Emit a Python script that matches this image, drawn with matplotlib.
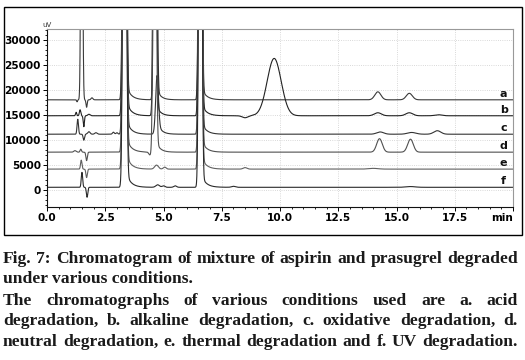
import matplotlib
matplotlib.use("Agg")
import matplotlib.pyplot as plt
import numpy as np
from matplotlib.patches import Rectangle
from matplotlib.ticker import MultipleLocator

# peak tables: (retention min, height uV, width min, tail uV, tail tau min)
trace_names = ["a", "b", "c", "d", "e", "f"]
baselines = [18000, 14800, 11100, 7500, 4100, 450]

peaks_a = [(1.29, -400, 0.02, 0, 0), (1.49, 80000, 0.035, 0, 0), (1.70, -1500, 0.025, 0, 0),
           (1.93, 400, 0.04, 0, 0), (3.33, 200000, 0.055, 4000, 0.2),
           (4.65, 150000, 0.05, 3000, 0.17), (6.58, 200000, 0.05, 3000, 0.2),
           (14.2, 1600, 0.13, 0, 0), (15.55, 1300, 0.13, 0, 0)]
peaks_b = [(1.25, 700, 0.025, 0, 0), (1.42, 1200, 0.03, 0, 0), (1.58, -2200, 0.025, 0, 0),
           (1.80, 300, 0.05, 0, 0), (3.33, 200000, 0.055, 4000, 0.2),
           (4.63, 150000, 0.05, 3000, 0.17), (6.58, 200000, 0.05, 3000, 0.2),
           (8.5, -400, 0.12, 0, 0), (9.75, 11500, 0.30, 0, 0),
           (14.2, 600, 0.15, 0, 0), (15.55, 600, 0.15, 0, 0), (16.8, 200, 0.15, 0, 0)]
peaks_c = [(1.32, 3000, 0.03, 0, 0), (1.58, -1200, 0.03, 0, 0), (1.80, 500, 0.05, 0, 0),
           (2.10, 300, 0.05, 0, 0), (2.85, 400, 0.04, 0, 0), (3.00, 300, 0.04, 0, 0),
           (3.33, 200000, 0.055, 4000, 0.2), (4.72, 10500, 0.06, 2500, 0.17),
           (6.58, 200000, 0.05, 3000, 0.2),
           (14.3, 450, 0.15, 0, 0), (15.65, 350, 0.18, 0, 0), (16.75, 700, 0.15, 0, 0)]
peaks_d = [(1.20, 300, 0.05, 0, 0), (1.45, 600, 0.03, 0, 0), (1.70, -1700, 0.03, 0, 0),
           (3.33, 200000, 0.055, 4000, 0.2), (4.42, -600, 0.05, 0, 0),
           (4.62, 150000, 0.05, 3000, 0.17), (6.58, 200000, 0.05, 3000, 0.2),
           (14.27, 2700, 0.12, 0, 0), (15.6, 2600, 0.12, 0, 0)]
peaks_e = [(1.47, 1800, 0.03, 0, 0), (1.70, -1700, 0.03, 0, 0),
           (3.33, 200000, 0.055, 4000, 0.2), (4.70, 800, 0.08, 0, 0), (5.05, 400, 0.06, 0, 0),
           (6.58, 200000, 0.05, 3000, 0.2), (8.5, 300, 0.08, 0, 0), (14.0, 150, 0.2, 0, 0)]
peaks_f = [(1.50, 3000, 0.03, 0, 0), (1.72, -2000, 0.03, 0, 0),
           (3.33, 200000, 0.055, 4000, 0.2), (4.75, 500, 0.08, 0, 0), (5.0, 300, 0.06, 0, 0),
           (5.5, 300, 0.06, 0, 0), (6.58, 200000, 0.05, 3000, 0.2), (8.0, 200, 0.08, 0, 0),
           (15.6, 150, 0.2, 0, 0)]
peak_tables = [peaks_a, peaks_b, peaks_c, peaks_d, peaks_e, peaks_f]
trace_colors = ["#3a3a3a", "#222222", "#333333", "#505050", "#606060", "#2a2a2a"]

x_ticks = [0.0, 2.5, 5.0, 7.5, 10.0, 12.5, 15.0, 17.5, 20.0]
x_labels = ["0.0", "2.5", "5.0", "7.5", "10.0", "12.5", "15.0", "17.5", "min"]
y_ticks = [0, 5000, 10000, 15000, 20000, 25000, 30000]

caption = [
    ("Fig. 7: Chromatogram of mixture of aspirin and prasugrel degraded", True),
    ("under various conditions.", False),
    ("The chromatographs of various conditions used are a. acid", True),
    ("degradation, b. alkaline degradation, c. oxidative degradation, d.", True),
    ("neutral degradation, e. thermal degradation and f. UV degradation.", True),
]


def trace(t, base, peaks):
    y = np.full_like(t, float(base))
    for rt, h, w, tail, tau in peaks:
        y += h * np.exp(-0.5 * ((t - rt) / w) ** 2)
        if tail:
            step = 0.5 * (1 + np.tanh((t - rt) / w))
            y += tail * step * np.exp(-np.clip(t - rt, 0, None) / tau)
    return y


W, H = 525, 360
fig = plt.figure(figsize=(W / 100, H / 100), dpi=100)
fig.patch.set_facecolor("white")

ax = fig.add_axes([47 / W, 1 - 207 / H, (513 - 47) / W, (207 - 29) / H])
t = np.linspace(0, 20, 6001)
for name, base, peaks, col in zip(trace_names, baselines, peak_tables, trace_colors):
    ax.plot(t, trace(t, base, peaks), color=col, lw=0.8)
    ax.text(19.6, base + 250, name, ha="center", va="bottom", fontsize=8,
            fontweight="bold", color="#111111")

ax.set_xlim(0, 20)
ax.set_ylim(-3500, 32200)
ax.set_xticks(x_ticks)
ax.set_xticklabels(x_labels)
ax.get_xticklabels()[-1].set_ha("right")
ax.set_yticks(y_ticks)
ax.xaxis.set_minor_locator(MultipleLocator(0.5))
ax.yaxis.set_minor_locator(MultipleLocator(1000))
ax.tick_params(which="major", direction="out", length=3, width=0.7, labelsize=7.6, pad=1.5)
ax.tick_params(which="minor", direction="out", length=1.6, width=0.6)
for lab in ax.get_xticklabels() + ax.get_yticklabels():
    lab.set_fontweight("bold")
ax.grid(True, which="major", color="#cccccc", ls=":", lw=0.6)
for side in ["left", "bottom"]:
    ax.spines[side].set_color("#111111")
    ax.spines[side].set_linewidth(0.8)
for side in ["top", "right"]:
    ax.spines[side].set_color("#999999")
    ax.spines[side].set_linewidth(0.8)
ax.text(0, 1.005, "uV", transform=ax.transAxes, ha="center", va="bottom", fontsize=5, color="#333333")

fig.add_artist(Rectangle((4 / W, 1 - 235 / H), 518 / W, 228 / H, transform=fig.transFigure,
                         fill=False, ec="black", lw=1))

# caption, justified like the journal text
renderer = fig.canvas.get_renderer()
font = dict(family="Liberation Serif", fontweight="bold", color="#1a1a1a")
left_px, right_px = 3, 518
fs = 12.0
probe = fig.text(0, 0, caption[0][0], fontsize=fs, **font)
nat = probe.get_window_extent(renderer).width
probe.remove()
fs = fs * 505 / nat
baselines_px = [263, 283, 305, 325, 346]
for (line, justify), ypx in zip(caption, baselines_px):
    yf = 1 - ypx / H
    if not justify:
        fig.text(left_px / W, yf, line, fontsize=fs, va="baseline", ha="left", **font)
        continue
    words = line.split(" ")
    arts = [fig.text(0, yf, w, fontsize=fs, va="baseline", ha="left", **font) for w in words]
    widths = [a.get_window_extent(renderer).width for a in arts]
    gap = (right_px - left_px - sum(widths)) / (len(words) - 1)
    x = left_px
    for a, wd in zip(arts, widths):
        a.set_x(x / W)
        x += wd + gap

fig.savefig("out.png", dpi=100)
